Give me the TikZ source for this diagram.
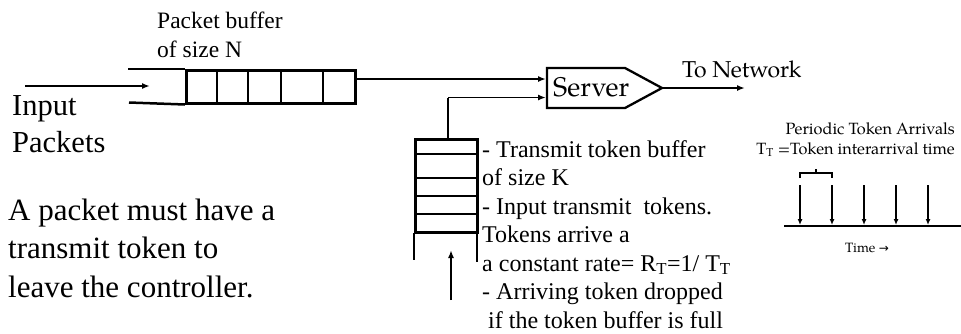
\documentclass[tikz,border=0pt]{standalone}
\usepackage{fontspec}
\setmainfont{Liberation Serif}
\newfontfamily\palfont{TeX Gyre Pagella}
\newfontfamily\symfont{DejaVu Sans}
\usetikzlibrary{arrows.meta}
\newcommand\fsz[2]{\fontsize{#1}{#2}\selectfont}
\begin{document}
\begin{tikzpicture}[x=1pt,y=-1pt,
  boxline/.style={line width=2.5pt},
  flow/.style={line width=1.8pt,-{Latex[length=8pt,width=6pt]}},
  tickarr/.style={line width=1.2pt,-{Latex[length=6pt,width=5pt]}},
  cellbox/.style={draw,boxline,inner sep=0pt,anchor=north west},
  lbl/.style={inner sep=0pt,anchor=base west,align=left}]
\useasboundingbox (0,0) rectangle (961,333);

% ---------- labels (base = baseline of the last line) ----------
\node[lbl,font=\fsz{23.5}{29}] (pblabel) at (157,57) {Packet buffer\\of size N};
\node[lbl,font=\fsz{30.5}{37}] (inlabel) at (12,152) {Input\\Packets};
\node[lbl,font=\fsz{31}{38.5}] (note) at (8,297) {A packet must have a\\transmit token to\\leave the controller.};
\node[lbl,font=\fsz{24}{28.5}] (toklabel) at (482,328)
  {- Transmit token buffer\\of size K\\- Input transmit\ \ tokens.\\Tokens arrive a\\a constant rate= R\textsubscript{T}=1/ T\textsubscript{T}\\- Arriving token dropped\\\hspace*{0.25em}if the token buffer is full};
\node[lbl,font=\palfont\fsz{23}{28}] (tonet) at (682,77) {To Network};

% ---------- packet buffer ----------
\node[cellbox,minimum width=169pt,minimum height=33pt] (pbuf) at (185,69) {};
\foreach \xx in {217,248,281,323}
  \draw[boxline] (\xx,69) -- (\xx,102);
\coordinate (ptopL) at (128,69);
\coordinate (pbotL) at (129,102.5);
\draw[boxline] (ptopL) -- (pbuf.north west);
\draw[boxline] (pbotL) -- (pbuf.south west);
\coordinate (inS) at (25,86);
\coordinate (inE) at (150,86);
\draw[flow] (inS) -- (inE);

% ---------- server ----------
\coordinate (sTL) at (547,68);
\coordinate (sTR) at (625,68);
\coordinate (sTip) at (662,88);
\coordinate (sBR) at (625,108);
\coordinate (sBL) at (547,108);
\draw[line width=2.3pt,line join=miter] (sTL) -- (sTR) -- (sTip) -- (sBR) -- (sBL) -- cycle;
\node[lbl,font=\palfont\fsz{27}{32}] (srv) at (553,96) {Server};
\coordinate (pout) at (355,79);
\coordinate (sin1) at (546,79);
\draw[flow] (pout) -- (sin1);
\coordinate (netE) at (745,88);
\draw[flow] (sTip) -- (netE);

% ---------- token buffer ----------
\node[cellbox,minimum width=62pt,minimum height=93pt] (tbuf) at (414,138) {};
\foreach \yy in {154,178,196,214}
  \draw[boxline] (414,\yy) -- (476,\yy);
\coordinate (tlegL1) at (414,233);
\coordinate (tlegL2) at (414,260);
\coordinate (tlegR1) at (477,234);
\coordinate (tlegR2) at (477,262);
\draw[boxline] (tlegL1) -- (tlegL2);
\draw[boxline] (tlegR1) -- (tlegR2);
\coordinate (tout) at (448,138);
\coordinate (sin2) at (546,97.5);
\draw[boxline] (tout) -- (448,97.5);
\draw[flow] (448,97.5) -- (sin2);
\coordinate (tinS) at (451,300);
\coordinate (tinE) at (451,250);
\draw[flow] (tinS) -- (tinE);

% ---------- periodic token arrivals ----------
\node[inner sep=0pt,anchor=base east,font=\palfont\fsz{16.3}{20}] (perT) at (955,134) {Periodic Token Arrivals};
\node[inner sep=0pt,anchor=base east,font=\palfont\fsz{16.3}{20}] (perI) at (955,154) {T\textsubscript{T} =Token interarrival time};
\coordinate (axL) at (784,226);
\coordinate (axR) at (961,226);
\draw[line width=2pt] (axL) -- (axR);
\foreach \xx in {800,832,864,896,928}
  \draw[tickarr] (\xx,185) -- (\xx,225);
\draw[line width=1.1pt] (800,178) -- (800,173) -- (832,173) -- (832,178);
\draw[line width=1.1pt] (816,173) -- (816,169);
\node[inner sep=0pt,anchor=base,font=\palfont\fsz{13.5}{16}] (timel) at (867,252) {Time {\symfont\fsz{12}{16}→}};
\end{tikzpicture}
\end{document}
